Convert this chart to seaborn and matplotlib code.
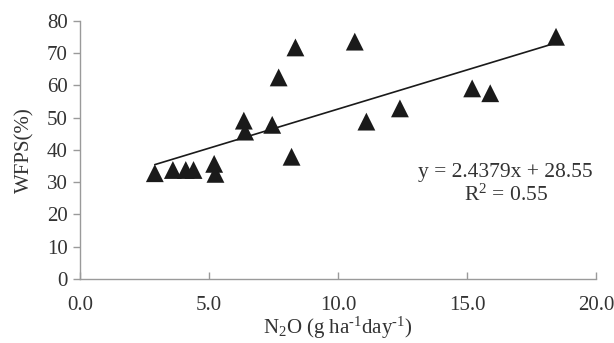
import numpy as np
import pandas as pd
import matplotlib
matplotlib.use("Agg")
import matplotlib.pyplot as plt
import seaborn as sns

n2o = [2.9, 3.6, 4.1, 4.4, 5.2, 5.25, 6.35, 6.4, 7.45, 7.7, 8.35, 8.2, 10.65, 11.1, 12.4, 15.2, 15.9, 18.45]
wfps = [32.8, 33.8, 33.8, 33.8, 35.7, 32.6, 49.1, 45.7, 47.8, 62.5, 71.8, 37.9, 73.6, 48.8, 52.9, 59.1, 57.6, 75.1]
x_ticks = [0.0, 5.0, 10.0, 15.0, 20.0]
y_ticks = [0, 10, 20, 30, 40, 50, 60, 70, 80]
eq_text = "y = 2.4379x + 28.55\nR$^2$ = 0.55"

df = pd.DataFrame({"N2O": n2o, "WFPS": wfps})

sns.set_style("white")
plt.rcParams["font.family"] = ["Liberation Serif", "DejaVu Serif"]
plt.rcParams["mathtext.fontset"] = "custom"
plt.rcParams["mathtext.rm"] = "Liberation Serif"
plt.rcParams["mathtext.it"] = "Liberation Serif:italic"

txt = "#333333"
grey = "#9a9a9a"

fig = plt.figure(figsize=(6.14, 3.43), dpi=100)
ax = fig.add_axes([0.1303, 0.1866, 0.8404, 0.7522])

sns.regplot(data=df, x="N2O", y="WFPS", ci=None, ax=ax, marker="^",
            scatter_kws=dict(s=165, color="#1a1a1a", edgecolor="none", alpha=1, zorder=3),
            line_kws=dict(color="#1a1a1a", lw=1.2, zorder=2))

ax.set_xlim(0, 20)
ax.set_ylim(0, 80)
ax.set_xticks(x_ticks)
ax.set_xticklabels([f"{v:.1f}" for v in x_ticks])
ax.set_yticks(y_ticks)

for s in ["top", "right"]:
    ax.spines[s].set_visible(False)
for s in ["left", "bottom"]:
    ax.spines[s].set_color(grey)
    ax.spines[s].set_linewidth(1.0)

ax.tick_params(axis="y", direction="out", length=5, width=1, color=grey, labelsize=15, labelcolor=txt, pad=4)
ax.tick_params(axis="x", direction="in", length=5, width=1, color=grey, labelsize=15, labelcolor=txt, pad=12)
ax.tick_params(axis="y", which="both", left=True)
ax.tick_params(axis="x", which="both", bottom=True)

ax.set_xlabel("N$_\\mathrm{2}$O (g ha$^{\\mathrm{\u2010}\\mathrm{1}}$day$^{\\mathrm{\u2010}\\mathrm{1}}$)",
              fontsize=15, color=txt, labelpad=0)
ax.set_ylabel("WFPS(%)", fontsize=15, color=txt, labelpad=9)

ax.text(16.5, 29.4, eq_text, ha="center", va="center", multialignment="center",
        fontsize=15.5, color=txt, linespacing=1.15)

fig.savefig("out.png", dpi=100)
